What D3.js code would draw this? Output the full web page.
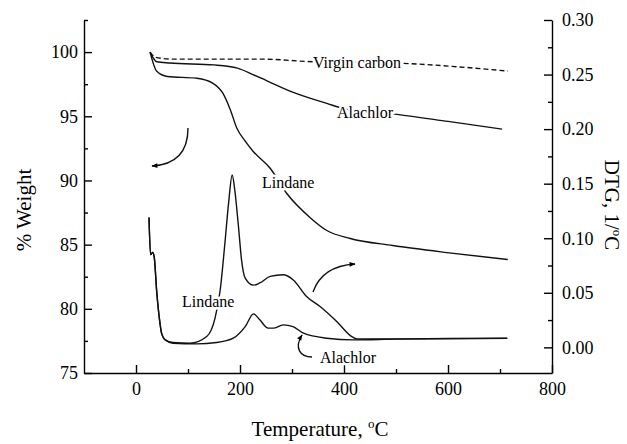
<!DOCTYPE html>
<html>
<head>
<meta charset="utf-8">
<script src="https://cdn.jsdelivr.net/npm/d3@7.9.0/dist/d3.min.js"></script>
<style>
  body { margin: 0; background: #fff; }
  svg { display: block; font-family: 'Liberation Serif', 'Times New Roman', serif; }
  .axis path, .axis line { stroke: #000; stroke-width: 1.4; }
  .axis text { font-size: 18px; fill: #000; font-family: 'Liberation Serif', serif; }
  .curve { fill: none; stroke: #111; stroke-width: 1.4; }
  .lbl { font-size: 16px; fill: #000; stroke: #fff; stroke-width: 5; paint-order: stroke; stroke-linejoin: round; }
  .title { font-size: 21px; fill: #000; }
</style>
</head>
<body>
<svg id="chart" width="627" height="444"></svg>
<script>
// tick values
const tempTicks = [0, 200, 400, 600, 800];
const tempMinor = [100, 300, 500, 700];
const weightTicks = [75, 80, 85, 90, 95, 100];
const weightMinor = [77.5, 82.5, 87.5, 92.5, 97.5, 102.5];
const dtgTicks = [0, 0.05, 0.10, 0.15, 0.20, 0.25, 0.30];
const dtgMinor = [0.025, 0.075, 0.125, 0.175, 0.225, 0.275];

// TGA, % weight (left axis)
const virginT = [27, 37, 71, 160, 244, 340, 430, 527, 620, 715];
const virginW = [100, 99.6, 99.45, 99.45, 99.45, 99.25, 99.2, 99.1, 98.85, 98.52];

const alachlorT = [27, 40, 65, 150, 195, 225, 250, 300, 367, 400, 502, 600, 704];
const alachlorW = [100, 99.25, 99.15, 99.0, 98.75, 98.25, 97.8, 96.9, 96.0, 95.6, 95.15, 94.6, 94.0];

const lindaneT = [27, 40, 60, 117, 148, 167, 181, 194, 210, 225, 258, 290, 335, 367, 412, 494, 598, 715];
const lindaneW = [100, 98.5, 98.1, 97.96, 97.57, 96.8, 95.55, 94.07, 93.06, 92.28, 90.95, 88.98, 87.1, 86.1, 85.48, 84.93, 84.38, 83.84];

// DTG, 1/°C (right axis)
const dtgLindaneT = [25, 28, 32, 35, 40, 46, 49, 56, 71, 104, 136, 152, 162, 171, 178, 185, 190, 197, 203, 210, 226, 238, 258, 283, 302, 328, 354, 386, 415, 425, 500, 600, 714];
const dtgLindaneD = [0.119, 0.085, 0.087, 0.083, 0.050, 0.0225, 0.0133, 0.0069, 0.0044, 0.0038, 0.0099, 0.0268, 0.0528, 0.0956, 0.132, 0.158, 0.144, 0.111, 0.080, 0.0635, 0.057, 0.059, 0.065, 0.0665, 0.062, 0.0466, 0.0374, 0.0237, 0.0099, 0.0078, 0.0078, 0.0082, 0.0085];

const dtgAlachlorT = [25, 28, 32, 35, 40, 46, 49, 56, 71, 117, 155, 187, 210, 226, 238, 254, 264, 283, 302, 322, 367, 418, 500, 600, 714];
const dtgAlachlorD = [0.119, 0.085, 0.087, 0.083, 0.050, 0.0225, 0.0133, 0.0069, 0.0038, 0.0032, 0.0044, 0.0084, 0.019, 0.0307, 0.0252, 0.0176, 0.0176, 0.0206, 0.019, 0.013, 0.0084, 0.0069, 0.0075, 0.0078, 0.0082];

const svg = d3.select('#chart');

const x = d3.scaleLinear().domain([-100, 800]).range([84, 552]);
const yW = d3.scaleLinear().domain([75, 102.5]).range([373, 20]);
const yD = d3.scaleLinear().domain([-0.0235, 0.30]).range([373, 20]);

// axes
svg.append('g').attr('class', 'axis').attr('transform', 'translate(0,373)')
  .call(d3.axisBottom(x).tickValues(tempTicks).tickSize(-8).tickSizeOuter(0).tickPadding(9));
svg.append('g').attr('class', 'axis').attr('transform', 'translate(0,373)')
  .call(d3.axisBottom(x).tickValues(tempMinor).tickSize(-4).tickFormat(''))
  .select('.domain').remove();

svg.append('g').attr('class', 'axis').attr('transform', 'translate(84,0)')
  .call(d3.axisLeft(yW).tickValues(weightTicks).tickSize(-8).tickSizeOuter(0).tickPadding(6));
svg.append('g').attr('class', 'axis').attr('transform', 'translate(84,0)')
  .call(d3.axisLeft(yW).tickValues(weightMinor).tickSize(-4).tickFormat(''))
  .select('.domain').remove();

svg.append('g').attr('class', 'axis').attr('transform', 'translate(552,0)')
  .call(d3.axisRight(yD).tickValues(dtgTicks).tickFormat(d3.format('.2f')).tickSize(-8).tickSizeOuter(0).tickPadding(10));
svg.append('g').attr('class', 'axis').attr('transform', 'translate(552,0)')
  .call(d3.axisRight(yD).tickValues(dtgMinor).tickSize(-4).tickFormat(''))
  .select('.domain').remove();

// curves
function drawSeries(ts, vs, yScale, dash) {
  const pts = ts.map((t, i) => [t, vs[i]]);
  svg.append('path')
    .attr('class', 'curve')
    .attr('d', d3.line().x((d) => x(d[0])).y((d) => yScale(d[1])).curve(d3.curveMonotoneX)(pts))
    .attr('stroke-dasharray', dash || null);
}

drawSeries(virginT, virginW, yW, '5,3');
drawSeries(alachlorT, alachlorW, yW);
drawSeries(lindaneT, lindaneW, yW);
drawSeries(dtgAlachlorT, dtgAlachlorD, yD);
drawSeries(dtgLindaneT, dtgLindaneD, yD);

// arrows
svg.append('defs').append('marker')
  .attr('id', 'head').attr('viewBox', '0 0 10 10').attr('refX', 9).attr('refY', 5)
  .attr('markerWidth', 7).attr('markerHeight', 6).attr('orient', 'auto')
  .attr('markerUnits', 'userSpaceOnUse')
  .append('path').attr('d', 'M0,1 L10,5 L0,9 z').attr('fill', '#000');

svg.append('path').attr('class', 'curve').attr('d', 'M188,128 Q188,164 152,166').attr('marker-end', 'url(#head)');
svg.append('path').attr('class', 'curve').attr('d', 'M313,292 Q322,266 355,264').attr('marker-end', 'url(#head)');
svg.append('path').attr('class', 'curve').attr('d', 'M312,357 C300,357 294,348 302,335').attr('marker-end', 'url(#head)');

// curve labels
const labels = [
  { text: 'Virgin carbon', x: 313, y: 68 },
  { text: 'Alachlor', x: 337, y: 118 },
  { text: 'Lindane', x: 262, y: 188 },
  { text: 'Lindane', x: 182, y: 307 },
  { text: 'Alachlor', x: 320, y: 363 },
];
svg.selectAll('.lbl').data(labels).join('text')
  .attr('class', 'lbl').attr('x', (d) => d.x).attr('y', (d) => d.y).text((d) => d.text);

// axis titles
svg.append('text').attr('class', 'title')
  .attr('transform', 'translate(31,210) rotate(-90)')
  .attr('text-anchor', 'middle').text('% Weight');

const xt = svg.append('text').attr('class', 'title')
  .attr('x', 320).attr('y', 436).attr('text-anchor', 'middle');
xt.append('tspan').text('Temperature, ');
xt.append('tspan').attr('font-size', 13).attr('dy', -8).text('o');
xt.append('tspan').attr('dy', 8).text('C');

const yt = svg.append('text').attr('class', 'title')
  .attr('transform', 'translate(605,205) rotate(90)')
  .attr('text-anchor', 'middle');
yt.append('tspan').text('DTG, 1/');
yt.append('tspan').attr('font-size', 13).attr('dy', -8).text('o');
yt.append('tspan').attr('dy', 8).text('C');
</script>
</body>
</html>
